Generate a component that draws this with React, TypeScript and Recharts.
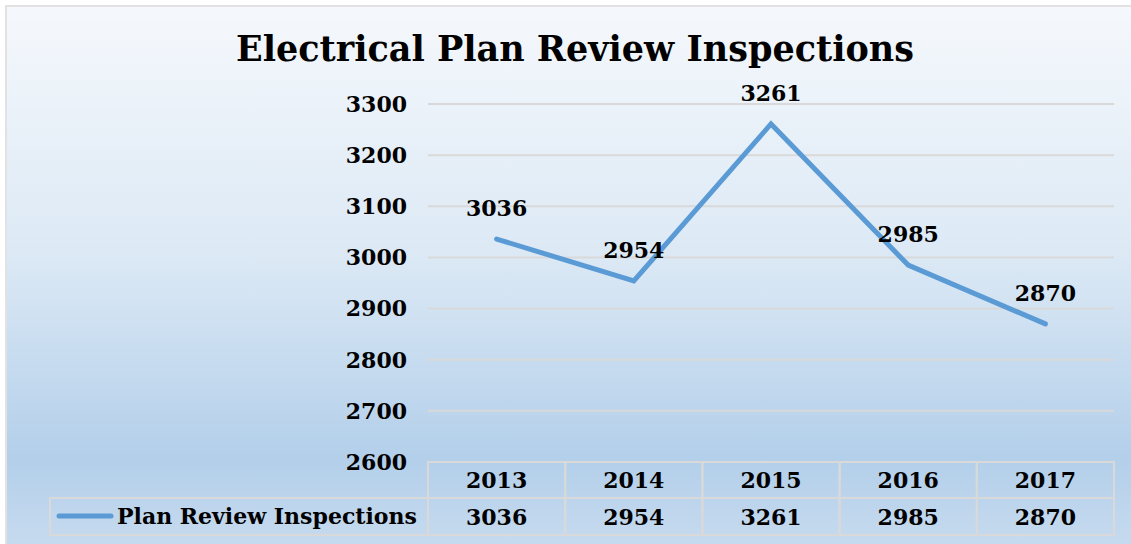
import { LineChart, Line, XAxis, YAxis, CartesianGrid, LabelList, Legend } from "recharts";

const years = ["2013", "2014", "2015", "2016", "2017"];
const inspections = [3036, 2954, 3261, 2985, 2870];
const yTicks = [2600, 2700, 2800, 2900, 3000, 3100, 3200, 3300];
const seriesName = "Plan Review Inspections";
const title = "Electrical Plan Review Inspections";

const chartData = years.map((year, i) => ({ year, value: inspections[i] }));

const FONT = "'DejaVu Serif', serif";
const GRID = "#d9d9d9";
const LINE = "#5b9bd5";
const BAND = 686 / years.length;

// table under the plot: each x tick draws its column (year + value)
function TableTick(props: any) {
  const { x, y, payload, index } = props;
  const left = x - BAND / 2;
  const rowH = 36;
  return (
    <g>
      <rect x={left} y={y} width={BAND} height={rowH} fill="none" stroke={GRID} strokeWidth={2} />
      <rect x={left} y={y + rowH} width={BAND} height={rowH + 1} fill="none" stroke={GRID} strokeWidth={2} />
      <text x={x} y={y + 26} textAnchor="middle" fontFamily={FONT} fontWeight="bold" fontSize={22} fill="#000">
        {payload.value}
      </text>
      <text x={x} y={y + rowH + 27} textAnchor="middle" fontFamily={FONT} fontWeight="bold" fontSize={22} fill="#000">
        {inspections[index]}
      </text>
    </g>
  );
}

function LegendCell() {
  return (
    <svg width={380} height={39} style={{ display: "block" }}>
      <rect x={1} y={1} width={378} height={37} fill="none" stroke={GRID} strokeWidth={2} />
      <line x1={10} y1={19} x2={62} y2={19} stroke={LINE} strokeWidth={5} strokeLinecap="round" />
      <text x={68} y={27} fontFamily={FONT} fontWeight="bold" fontSize={22} fill="#000">
        {seriesName}
      </text>
    </svg>
  );
}

export default function App() {
  return (
    <div style={{ position: "absolute", left: 0, top: 0, width: 1131, height: 544, background: "#fff", overflow: "hidden" }}>
      <div
        style={{
          position: "absolute",
          left: 5,
          top: 5,
          width: 1140,
          height: 550,
          border: "2px solid #e2e2e2",
          background: "linear-gradient(to bottom, #f5f8fc 0%, #dce9f5 45%, #b3cfea 82%, #c9dcef 100%)",
        }}
      />
      <div
        style={{
          position: "absolute",
          left: 0,
          top: 28,
          width: 1150,
          textAlign: "center",
          fontFamily: FONT,
          fontWeight: "bold",
          fontSize: 35,
          color: "#000",
        }}
      >
        {title}
      </div>
      <div style={{ position: "absolute", left: 0, top: 0 }}>
        <LineChart width={1131} height={544} data={chartData} margin={{ top: 104, right: 17, bottom: 0, left: 0 }}>
          <CartesianGrid vertical={false} stroke={GRID} strokeWidth={2} />
          <YAxis
            domain={[2600, 3300]}
            ticks={yTicks}
            width={428}
            axisLine={false}
            tickLine={false}
            tickMargin={15}
            tick={{ fontFamily: FONT, fontWeight: "bold", fontSize: 22, fill: "#000" }}
          />
          <XAxis
            dataKey="year"
            axisLine={false}
            tickLine={false}
            tickSize={0}
            tickMargin={0}
            interval={0}
            height={82}
            padding={{ left: BAND / 2, right: BAND / 2 }}
            tick={<TableTick />}
          />
          <Legend
            layout="vertical"
            align="center"
            verticalAlign="middle"
            wrapperStyle={{ left: 49, top: 497, width: 380, height: 39 }}
            content={() => <LegendCell />}
          />
          <Line
            type="linear"
            dataKey="value"
            name={seriesName}
            stroke={LINE}
            strokeWidth={5}
            strokeLinecap="round"
            dot={false}
            isAnimationActive={false}
          >
            <LabelList
              dataKey="value"
              position="top"
              offset={23}
              style={{ fontFamily: FONT, fontWeight: "bold", fontSize: 22, fill: "#000" }}
            />
          </Line>
        </LineChart>
      </div>
    </div>
  );
}
